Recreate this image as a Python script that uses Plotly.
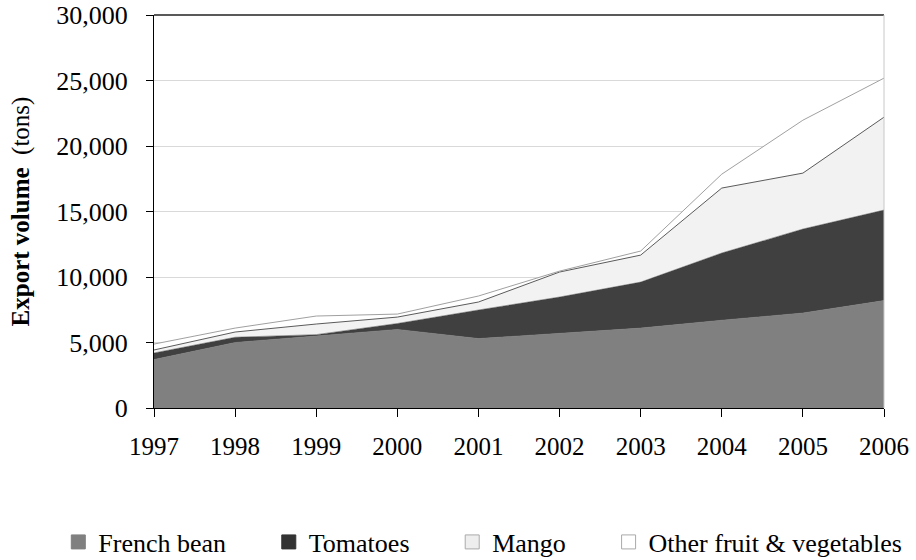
import plotly.graph_objects as go

years = [1997, 1998, 1999, 2000, 2001, 2002, 2003, 2004, 2005, 2006]
french_bean = [3700, 5000, 5500, 6000, 5300, 5700, 6100, 6700, 7250, 8200]
tomatoes = [500, 400, 100, 450, 2180, 2770, 3510, 5130, 6410, 6910]
mango = [230, 400, 810, 490, 610, 1910, 2060, 4960, 4270, 7090]
other = [450, 300, 610, 230, 460, 70, 310, 1060, 4040, 2980]

series_names = ["French bean", "Tomatoes", "Mango", "Other fruit & vegetables"]
series_values = [french_bean, tomatoes, mango, other]
fill_colors = ["#808080", "#404040", "#f2f2f2", "#ffffff"]
line_colors = ["#808080", "#404040", "#5a5a5a", "#a0a0a0"]
line_widths = [0.5, 0.5, 1, 1]
marker_fill = ["#808080", "#333333", "#eeeeee", "#ffffff"]
marker_line = ["#808080", "#333333", "#aaaaaa", "#aaaaaa"]

y_ticks = [0, 5000, 10000, 15000, 20000, 25000, 30000]

FONT = "Liberation Serif"

fig = go.Figure()
for name, vals, fc, lc, lw in zip(series_names, series_values, fill_colors, line_colors, line_widths):
    fig.add_trace(go.Scatter(
        x=years, y=vals, name=name, stackgroup="one", mode="lines",
        fillcolor=fc, line=dict(color=lc, width=lw), showlegend=False,
        hoverinfo="x+y+name",
    ))

pad = "\u00a0" * 5 + "\u2009"
for i, (name, mf, ml) in enumerate(zip(series_names, marker_fill, marker_line)):
    fig.add_trace(go.Scatter(
        x=[None], y=[None], mode="markers",
        name=name + (pad if i < len(series_names) - 1 else ""),
        marker=dict(symbol="square", size=14, color=mf, line=dict(color=ml, width=1)),
        showlegend=True,
    ))

fig.update_layout(
    width=916, height=560,
    margin=dict(l=154, r=32, t=15, b=152, autoexpand=False),
    paper_bgcolor="white", plot_bgcolor="white",
    font=dict(family=FONT, size=25, color="black"),
    showlegend=True,
    legend=dict(
        orientation="h", traceorder="normal",
        x=-0.1311, xanchor="left", y=-0.341, yanchor="middle",
        font=dict(family=FONT, size=26, color="black"),
        bgcolor="rgba(0,0,0,0)", itemclick=False, itemdoubleclick=False,
        tracegroupgap=0,
    ),
    xaxis=dict(
        range=[1997, 2006], tickmode="array", tickvals=years,
        ticktext=[str(y) for y in years],
        showgrid=False, zeroline=False, showline=True, linecolor="black", linewidth=1,
        ticks="outside", ticklen=8, tickcolor="black", tickwidth=1,
        ticklabelstandoff=8, ticklabeloverflow="allow",
        tickfont=dict(family=FONT, size=25, color="black"), automargin=False,
    ),
    yaxis=dict(
        range=[0, 30000], tickmode="array", tickvals=y_ticks,
        ticktext=[f"{v:,}" for v in y_ticks],
        showgrid=True, gridcolor="#d9d9d9", gridwidth=1, zeroline=False,
        showline=True, linecolor="black", linewidth=1,
        ticks="outside", ticklen=7, tickcolor="black", tickwidth=1,
        ticklabelstandoff=13, ticklabeloverflow="allow",
        tickfont=dict(family=FONT, size=26, color="black"), automargin=False,
        title=dict(text="<b>Export volume</b>\u00a0\u00a0(tons)",
                   font=dict(family=FONT, size=25, color="black"), standoff=19),
    ),
)

fig.add_shape(type="line", xref="paper", yref="paper", x0=0, x1=1, y0=1, y1=1,
              line=dict(color="#222222", width=1.5), layer="above")
fig.add_shape(type="line", xref="paper", yref="paper", x0=1, x1=1, y0=0, y1=1,
              line=dict(color="#c8c8c8", width=1), layer="above")

fig.write_html("out.html", config={"displayModeBar": False},
               post_script="document.body.style.margin='0';")
